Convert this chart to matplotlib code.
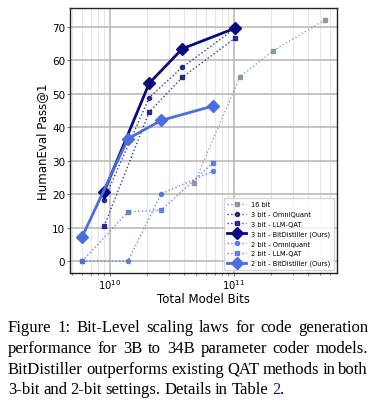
import matplotlib
matplotlib.use("Agg")
import matplotlib.pyplot as plt
import numpy as np

# Data
bits16 = [4.8e10, 1.12e11, 2.08e11, 5.44e11]
bits3 = [9.0e9, 2.08e10, 3.85e10, 1.02e11]
bits2 = [6.0e9, 1.4e10, 2.6e10, 6.8e10]

fp16 = [23.2, 55.0, 62.8, 72.0]
q3_omni = [18.3, 48.8, 57.9, 69.4]
q3_llmqat = [10.4, 44.5, 54.9, 66.5]
q3_bd = [20.7, 53.1, 63.4, 69.5]
q2_omni = [0.0, 0.0, 20.1, 26.8]
q2_llmqat = [0.0, 14.7, 15.2, 29.3]
q2_bd = [7.3, 36.5, 42.0, 46.3]

caption_lines = [
    "Figure 1: Bit-Level scaling laws for code generation",
    "performance for 3B to 34B parameter coder models.",
    "BitDistiller outperforms existing QAT methods in both",
    "3-bit and 2-bit settings. Details in Table 2.",
]

navy = "#0a0a80"
royal = "#4a6fdc"
gray = "#7a8a9a"

fig = plt.figure(figsize=(3.75, 4.02), dpi=100)
ax = fig.add_axes([0.187, 0.318, 0.712, 0.660])

ax.plot(bits16, fp16, ls=":", marker="s", color=gray, ms=3, lw=1, alpha=0.8, label="16 bit")
ax.plot(bits3, q3_omni, ls=":", marker="o", color=navy, ms=3, lw=1, alpha=0.8, label="3 bit - OmniQuant")
ax.plot(bits3, q3_llmqat, ls=":", marker="s", color=navy, ms=3, lw=1, alpha=0.8, label="3 bit - LLM-QAT")
ax.plot(bits3, q3_bd, ls="-", marker="D", color=navy, ms=6.5, lw=2, label="3 bit - BitDistiller (Ours)")
ax.plot(bits2, q2_omni, ls=":", marker="o", color=royal, ms=3, lw=1, alpha=0.8, label="2 bit - Omniquant")
ax.plot(bits2, q2_llmqat, ls=":", marker="s", color=royal, ms=3, lw=1, alpha=0.8, label="2 bit - LLM-QAT")
ax.plot(bits2, q2_bd, ls="-", marker="D", color=royal, ms=6.5, lw=2, label="2 bit - BitDistiller (Ours)")

ax.set_xscale("log")
ax.set_yticks([0, 10, 20, 30, 40, 50, 60, 70])
ax.grid(True, which="major", color="#bbbbbb", lw=1.2)
ax.grid(True, which="minor", axis="x", color="#e6e6e6", lw=0.8)
ax.set_axisbelow(True)
ax.tick_params(labelsize=7.5, length=2, width=0.6, color="#555555", pad=1.5)
ax.tick_params(axis="x", pad=1.0, labelsize=7.2)
ax.tick_params(which="minor", length=1.2, width=0.4)
for s in ax.spines.values():
    s.set_linewidth(1.0)
    s.set_color("#222222")
ax.set_xlabel("Total Model Bits", fontsize=8.5, labelpad=0.3)
ax.set_ylabel("HumanEval Pass@1", fontsize=8.5, labelpad=2)

leg = ax.legend(loc="lower right", fontsize=4.8, frameon=True, framealpha=0.8,
                borderpad=0.5, labelspacing=0.55, handlelength=2.8,
                edgecolor="#cccccc", fancybox=True)

# Caption, justified
fig.canvas.draw()
renderer = fig.canvas.get_renderer()
x0, x1 = 8 / 375, 368 / 375
ys = [328, 349, 370, 390]
fsz = 12.0
for i, (line, ypx) in enumerate(zip(caption_lines, ys)):
    y = 1 - ypx / 402
    words = line.split(" ")
    last = (i == len(caption_lines) - 1)
    texts = []
    widths = []
    for w in words:
        t = fig.text(0, y, w, fontsize=fsz, family="Liberation Serif", va="center", ha="left")
        bb = t.get_window_extent(renderer)
        widths.append(bb.width / fig.bbox.width)
        texts.append(t)
    total = sum(widths)
    if last:
        space = 0.0095
    else:
        space = ((x1 - x0) - total) / (len(words) - 1)
    x = x0
    for w, t, wd in zip(words, texts, widths):
        t.set_x(x)
        if w == "2." and last:
            t.set_text("")
            t2 = fig.text(x, y, "2", fontsize=fsz, family="Liberation Serif", va="center", ha="left", color="#1a1a9a")
            b2 = t2.get_window_extent(renderer).width / fig.bbox.width
            fig.text(x + b2, y, ".", fontsize=fsz, family="Liberation Serif", va="center", ha="left")
        x += wd + space

fig.savefig("out.png", dpi=100)
